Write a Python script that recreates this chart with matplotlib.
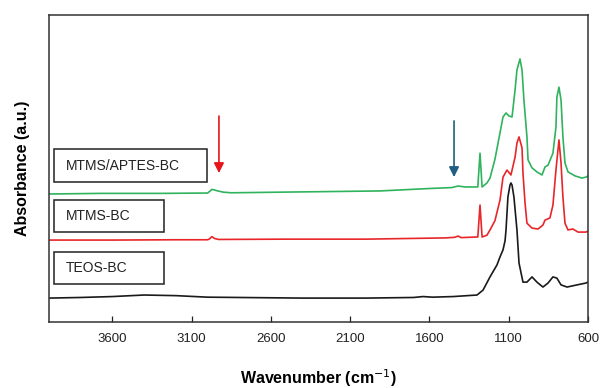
import matplotlib.pyplot as plt
from matplotlib.patches import Rectangle

plt.rcParams['font.family'] = ['Liberation Sans', 'DejaVu Sans']

# FTIR spectra (wavenumber cm-1, absorbance a.u., stacked)
teos_wn = [4000, 3800, 3600, 3400, 3200, 3000, 2800, 2400, 2000, 1700, 1640, 1580,
           1450, 1300, 1262, 1218, 1174, 1155, 1136, 1123, 1117, 1105, 1092, 1086, 1079,
           1067, 1048, 1035, 1010, 985, 953, 922, 884, 852, 821, 796, 770, 732, 669, 613, 600]
teos_ab = [7.8, 8.0, 8.3, 8.8, 8.6, 8.1, 8.0, 7.8, 7.8, 8.0, 8.3, 8.1,
           8.3, 8.8, 10.4, 14.7, 18.6, 21.2, 23.5, 26.5, 30.0, 40.7, 44.6, 45.3, 44.6,
           40.7, 30.0, 19.2, 13.0, 13.0, 14.7, 13.0, 11.4, 12.7, 14.7, 14.3, 12.1, 11.4, 12.1, 12.7, 13.0]

mtms_wn = [4000, 3600, 3200, 3000, 2990, 2972, 2955, 2930, 2500, 2000, 1500, 1440, 1420,
           1400, 1300, 1295, 1281, 1268, 1237, 1218, 1187, 1155, 1136, 1111, 1086, 1060,
           1048, 1035, 1016, 1010, 997, 985, 953, 915, 884, 871, 840, 821, 802, 783, 770,
           758, 745, 726, 695, 663, 613, 600]
mtms_ab = [26.7, 26.7, 26.8, 26.8, 27.0, 27.8, 27.2, 26.9, 27.0, 27.0, 27.4, 27.6, 28.0,
           27.5, 27.7, 27.7, 38.1, 27.7, 28.3, 30.0, 33.0, 39.7, 47.2, 49.5, 47.9, 53.7,
           58.3, 60.3, 56.7, 48.5, 38.8, 32.2, 30.6, 30.3, 31.6, 33.2, 33.9, 38.1, 49.5, 59.3, 51.8,
           40.7, 32.2, 30.0, 30.3, 29.3, 29.3, 29.6]

aptes_wn = [4000, 3678, 3300, 3047, 3000, 2985, 2972, 2955, 2935, 2900, 2850, 2543, 1912,
            1597, 1458, 1420, 1376, 1319, 1295, 1281, 1268, 1237, 1218, 1187, 1155, 1136,
            1117, 1098, 1079, 1060, 1048, 1029, 1016, 1004, 985, 978, 953, 922, 890, 871,
            852, 821, 802, 796, 783, 770, 758, 745, 726, 682, 638, 613, 600]
aptes_ab = [41.7, 41.9, 41.9, 42.0, 42.0, 42.6, 43.2, 43.0, 42.7, 42.3, 42.1, 42.3, 42.7,
            43.5, 43.8, 44.3, 44.0, 44.0, 44.0, 55.0, 44.0, 45.3, 46.9, 53.0, 61.6, 66.8,
            68.1, 67.1, 66.8, 75.6, 82.1, 85.7, 82.1, 72.3, 60.3, 52.8, 50.2, 48.9, 47.9, 50.5,
            51.1, 55.0, 63.5, 73.3, 76.5, 72.3, 60.3, 51.8, 48.9, 47.6, 46.9, 47.2, 47.6]

labels = ['MTMS/APTES-BC', 'MTMS-BC', 'TEOS-BC']
xticks = [3600, 3100, 2600, 2100, 1600, 1100, 600]

fig = plt.figure(figsize=(6.02, 3.88), dpi=100)
ax = fig.add_axes([0.0814, 0.170, 0.8953, 0.7913])

ax.plot(teos_wn, teos_ab, color='#1a1a1a', lw=1.2, solid_joinstyle='round')
ax.plot(mtms_wn, mtms_ab, color='#e8262a', lw=1.2, solid_joinstyle='round')
ax.plot(aptes_wn, aptes_ab, color='#2fb35c', lw=1.2, solid_joinstyle='round')

ax.set_xlim(4000, 600)
ax.set_ylim(0, 100)
ax.set_xticks(xticks)
ax.set_yticks([])
ax.tick_params(axis='x', direction='in', length=4, width=0.9, labelsize=9.5, pad=8, colors='#222222')
for s in ax.spines.values():
    s.set_linewidth(1.1)
    s.set_color('#333333')

ax.set_xlabel('Wavenumber (cm$^{-1}$)', fontsize=11.5, fontweight='bold', labelpad=16)
ax.set_ylabel('Absorbance (a.u.)', fontsize=11.5, fontweight='bold', labelpad=14)

# arrows marking bands
ax.annotate('', xy=(2928, 47.6), xytext=(2928, 68.0),
            arrowprops=dict(arrowstyle='-|>,head_width=0.3,head_length=0.6', color='#e8141b', lw=1.2))
ax.annotate('', xy=(1445, 46.3), xytext=(1445, 66.4),
            arrowprops=dict(arrowstyle='-|>,head_width=0.3,head_length=0.6', color='#1f5f82', lw=1.2))

# sample label boxes
boxes = [(0.0093, 0.456, 0.284, 0.1075), (0.0093, 0.293, 0.204, 0.104), (0.0093, 0.124, 0.204, 0.104)]
for (bx, by, bw, bh), lab in zip(boxes, labels):
    ax.add_patch(Rectangle((bx, by), bw, bh, transform=ax.transAxes, fill=False,
                           edgecolor='#222222', lw=1.1))
    ax.text(bx + 0.022, by + bh / 2, lab, transform=ax.transAxes, fontsize=10,
            va='center', ha='left', color='#222222')

plt.savefig('out.png', dpi=100)
